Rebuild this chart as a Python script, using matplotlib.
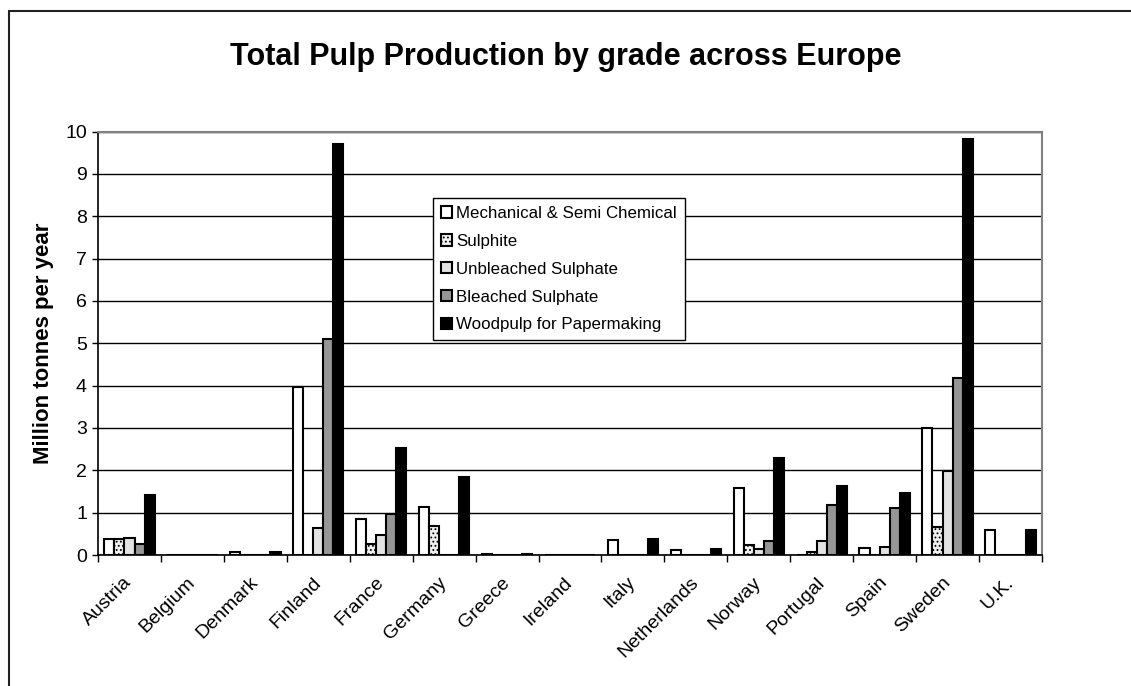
import numpy as np
import matplotlib
matplotlib.use('Agg')
import matplotlib.pyplot as plt
from matplotlib.patches import Rectangle

plt.rcParams['font.family'] = ['Liberation Sans', 'DejaVu Sans']
plt.rcParams['hatch.linewidth'] = 0.8

countries = ["Austria", "Belgium", "Denmark", "Finland", "France", "Germany", "Greece",
             "Ireland", "Italy", "Netherlands", "Norway", "Portugal", "Spain", "Sweden", "U.K."]

mechanical = [0.38, 0, 0.06, 3.97, 0.85, 1.14, 0.03, 0, 0.36, 0.11, 1.58, 0, 0.17, 3.0, 0.58]
sulphite = [0.38, 0, 0, 0, 0.25, 0.69, 0, 0, 0, 0, 0.23, 0.08, 0, 0.65, 0]
unbleached = [0.41, 0, 0, 0.63, 0.47, 0, 0, 0, 0, 0, 0.15, 0.33, 0.2, 1.99, 0]
bleached = [0.25, 0, 0, 5.1, 0.96, 0, 0, 0, 0, 0, 0.34, 1.18, 1.1, 4.17, 0]
woodpulp = [1.42, 0, 0.07, 9.7, 2.52, 1.84, 0.03, 0, 0.38, 0.13, 2.28, 1.62, 1.47, 9.82, 0.59]

series = [
    ("Mechanical & Semi Chemical", mechanical, "white", None),
    ("Sulphite", sulphite, "#f0f0f0", "...."),
    ("Unbleached Sulphate", unbleached, "#e3e3e3", None),
    ("Bleached Sulphate", bleached, "#969696", None),
    ("Woodpulp for Papermaking", woodpulp, "black", None),
]

fig = plt.figure(figsize=(11.31, 6.86), dpi=100)
ax = fig.add_axes([98 / 1131, 1 - 555 / 686, 944 / 1131, 423.5 / 686])

x = np.arange(len(countries))
w = 0.16
for i, (name, vals, color, hatch) in enumerate(series):
    ax.bar(x + (i - 2) * w, vals, w, color=color, edgecolor="black", linewidth=1.5,
           hatch=hatch, label=name, zorder=3)

ax.set_xlim(-0.5, len(countries) - 0.5)
ax.set_ylim(0, 10)
ax.set_yticks(range(0, 11))
ax.yaxis.grid(True, color="black", linewidth=1, zorder=0)
ax.set_axisbelow(True)

# category boundaries get the tick marks, names sit at the centres
ax.set_xticks(np.arange(len(countries) + 1) - 0.5)
ax.set_xticklabels([])
ax.set_xticks(x, minor=True)
ax.set_xticklabels(countries, minor=True, rotation=45, ha="right", va="center",
                   rotation_mode="anchor", fontsize=14)
ax.tick_params(axis="x", which="minor", length=0, pad=18)
ax.tick_params(axis="x", which="major", length=5, width=1, direction="out", color="black")
ax.tick_params(axis="y", length=4, width=1, labelsize=14, direction="out", pad=4)

for s in ["top", "right"]:
    ax.spines[s].set_color("#808080")
    ax.spines[s].set_linewidth(1.5)
for s in ["left", "bottom"]:
    ax.spines[s].set_color("black")
    ax.spines[s].set_linewidth(1.2)

ax.set_ylabel("Million tonnes per year", fontsize=16, fontweight="bold", labelpad=8)
fig.text(0.5, 1 - 57 / 686, "Total Pulp Production by grade across Europe",
         ha="center", va="center", fontsize=22, fontweight="bold")

leg = ax.legend(loc="upper left", bbox_to_anchor=(0.355, 0.843), fontsize=12.2,
                frameon=True, fancybox=False, edgecolor="black", framealpha=1,
                handlelength=0.65, handleheight=0.65, handletextpad=0.25,
                borderpad=0.47, labelspacing=0.76, borderaxespad=0)
leg.get_frame().set_linewidth(1)

fig.patches.append(Rectangle((9 / 1131, -0.1), 1.2, 1.1 - 10.5 / 686, transform=fig.transFigure,
                             fill=False, edgecolor="#222222", linewidth=1.5))

fig.savefig("out.png", dpi=100)
